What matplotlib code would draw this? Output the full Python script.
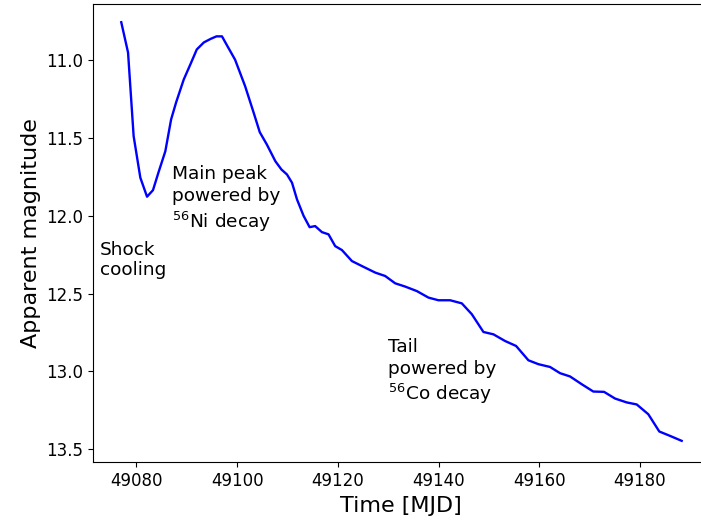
import matplotlib
matplotlib.use("Agg")
import matplotlib.pyplot as plt

# SN 1993J light curve (apparent magnitude vs. MJD)
mjd = [49077.0, 49078.35, 49079.46, 49080.79, 49082.12, 49083.3, 49084.4,
       49085.75, 49086.9, 49087.9, 49089.4, 49090.7, 49092.0, 49093.4,
       49094.7, 49095.9, 49097.0, 49098.1, 49099.6, 49101.6, 49103.3,
       49104.5, 49105.9, 49107.6, 49108.8, 49109.9, 49110.9, 49111.9,
       49113.2, 49114.4, 49115.5, 49116.85, 49118.15, 49119.48, 49120.81,
       49122.8, 49124.78, 49127.42, 49129.4, 49131.39, 49133.37, 49135.69,
       49138.0, 49139.98, 49142.3, 49144.62, 49146.61, 49148.91, 49150.89,
       49153.21, 49155.4, 49157.84, 49159.82, 49162.14, 49164.13, 49166.11,
       49168.43, 49170.73, 49172.86, 49175.04, 49177.36, 49179.35, 49181.65,
       49183.83, 49185.95, 49188.27]
mag = [10.755, 10.95, 11.488, 11.755, 11.877, 11.835, 11.72,
       11.585, 11.38, 11.27, 11.124, 11.028, 10.93, 10.885,
       10.863, 10.846, 10.846, 10.91, 10.996, 11.167, 11.338,
       11.462, 11.541, 11.649, 11.702, 11.734, 11.787, 11.895,
       12.0, 12.073, 12.066, 12.105, 12.119, 12.195, 12.22,
       12.291, 12.323, 12.365, 12.387, 12.434, 12.455, 12.484,
       12.526, 12.543, 12.543, 12.563, 12.633, 12.747, 12.762,
       12.805, 12.837, 12.929, 12.954, 12.972, 13.012, 13.033,
       13.083, 13.13, 13.132, 13.175, 13.2, 13.213, 13.276,
       13.387, 13.415, 13.447]

x_ticks = [49080, 49100, 49120, 49140, 49160, 49180]
y_ticks = [11.0, 11.5, 12.0, 12.5, 13.0, 13.5]

W, H = 701, 525
fig = plt.figure(figsize=(W / 100, H / 100), dpi=100)
left, right, top, bottom = 93.3, 708.0, 3.7, 462.3
ax = fig.add_axes([left / W, 1 - bottom / H, (right - left) / W, (bottom - top) / H])

ax.plot(mjd, mag, color="blue", lw=1.7)
ax.set_xlim(49071.45, 49193.5)
ax.set_ylim(13.585, 10.636)

ax.set_xticks(x_ticks)
ax.set_xticklabels([str(t) for t in x_ticks])
ax.set_yticks(y_ticks)
ax.set_yticklabels([f"{t:.1f}" for t in y_ticks])
ax.tick_params(labelsize=12)

ax.set_xlabel("Time [MJD]", fontsize=16)
ax.set_ylabel("Apparent magnitude", fontsize=16)

ann_fs = 13.3
ax.text(49072.8, 12.16, "Shock\ncooling", fontsize=ann_fs, ha="left", va="top",
        linespacing=1.17)
ax.text(49087.1, 11.675, "Main peak\npowered by\n$^{56}$Ni decay",
        fontsize=ann_fs, ha="left", va="top", linespacing=1.26)
ax.text(49130.0, 12.785, "Tail\npowered by\n$^{56}$Co decay",
        fontsize=ann_fs, ha="left", va="top", linespacing=1.26)

fig.savefig("out.png", dpi=100)
